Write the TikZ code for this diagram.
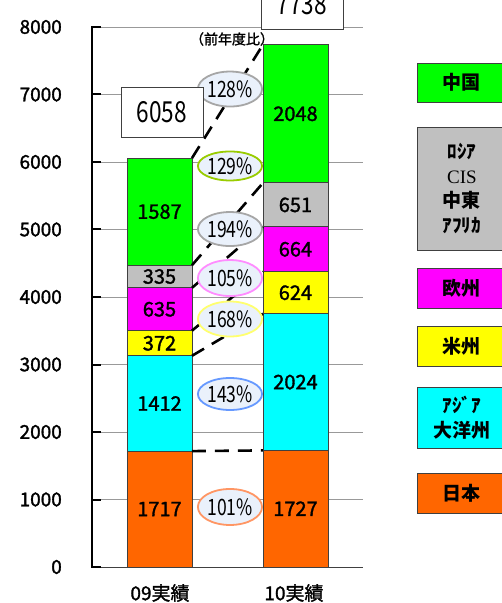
\documentclass[tikz,border=0pt]{standalone}
\usepackage{fontspec}
\setmainfont{Noto Sans CJK JP}
\newfontfamily\halbfett[FakeBold=1.6]{Noto Sans CJK JP}
\newfontfamily\schmal[FakeStretch=0.78]{Noto Sans CJK JP}
\newfontfamily\serifCIS{Liberation Serif}
\usetikzlibrary{shapes.geometric}
\definecolor{gruen}{RGB}{0,255,0}
\definecolor{grauB}{RGB}{192,192,192}
\definecolor{magentaB}{RGB}{255,0,255}
\definecolor{gelb}{RGB}{255,255,0}
\definecolor{tuerkis}{RGB}{0,255,255}
\definecolor{orangeB}{RGB}{255,102,0}
\definecolor{rahmen}{RGB}{64,64,64}
\definecolor{kreis}{RGB}{234,241,251}
\definecolor{grauE}{RGB}{166,166,166}
\definecolor{gruenE}{RGB}{153,204,0}
\definecolor{rosa}{RGB}{255,140,255}
\definecolor{hellgelb}{RGB}{255,255,110}
\definecolor{blauE}{RGB}{102,153,255}
\definecolor{lachs}{RGB}{255,150,100}

\begin{document}
\begin{tikzpicture}[x=1pt, y=0.0675pt, % 1000 = 67.5pt
  gitter/.style={draw=gray!80, line width=0.8pt},
  achse/.style={line width=2pt, line cap=rect},
  balken/.style={draw=rahmen, line width=0.9pt},
  zahl/.style={font=\halbfett\fontsize{20}{22}\selectfont, inner sep=0pt},
  skala/.style={font=\halbfett\fontsize{19}{22}\selectfont, inner sep=0pt},
  reihe/.style={line width=2.6pt, dash pattern=on 14pt off 9pt},
  quote/.style={ellipse, fill=kreis, line width=1.8pt, minimum width=45pt, inner sep=0pt,
    font=\schmal\fontsize{22.5}{24}\selectfont},
  summe/.style={draw=rahmen, fill=white, line width=0.9pt, minimum width=82pt, minimum height=50pt,
    font=\schmal\fontsize{29}{31}\selectfont},
  legende/.style={draw=rahmen, line width=0.9pt, minimum width=90pt, align=center,
    font=\bfseries\fontsize{19}{24.5}\selectfont}]

\useasboundingbox (-92,-533.3) rectangle (410,8400);

% Gitter und Achsen
\foreach \y in {1000,2000,...,8000}
  \draw[gitter] (0,\y) -- (271,\y);
\draw[rahmen, line width=0.8pt] (0,0) -- (271,0); % x-Achse
\foreach \y in {0,1000,...,8000} {
  \draw[achse] (0,\y) -- (8,\y);
  \node[skala, anchor=east] (y\y) at (-30,\y) {\y};
}
\draw[achse] (0,0) -- (0,8000); % y-Achse

% Balken 09 / 10
\foreach \i/\farbe/\wa/\ua/\oa/\wb/\ub/\ob in {1/orangeB/1717/0/1717/1727/0/1727,
  2/tuerkis/1412/1717/3129/2024/1727/3751, 3/gelb/372/3129/3501/624/3751/4375,
  4/magentaB/635/3501/4136/664/4375/5039, 5/grauB/335/4136/4471/651/5039/5690,
  6/gruen/1587/4471/6058/2048/5690/7738} {
  \filldraw[balken, fill=\farbe] (35,\ua) rectangle (100,\oa);
  \node[zahl] (a\i) at (67.5,{(\ua+\oa)/2}) {\wa};
  \filldraw[balken, fill=\farbe] (171,\ub) rectangle (236,\ob);
  \node[zahl] (b\i) at (203.5,{(\ub+\ob)/2}) {\wb};
  \coordinate (l\i) at (100,\oa);
  \coordinate (r\i) at (171,\ob);
}
\foreach \i in {1,...,6}
  \draw[reihe] (l\i) -- (r\i); % Verbindungslinien

% Vorjahresvergleich
\foreach \n/\y/\h/\rand in {128/7081/35/grauE, 129/5941/29/gruenE, 194/5007/34/grauE,
  105/4281/36/rosa, 168/3674/35/hellgelb, 143/2563/32/blauE, 101/889/36/lachs}
  \node[quote, draw=\rand, minimum height=\h pt] (q\n) at (138,\y) {\n\%};

\node[summe] (s09) at (70,6741) {6058};
\node[summe] (s10) at (210,8341) {7738};
\node[font=\halbfett\fontsize{14}{16}\selectfont, inner sep=0pt] (vj) at (140,7822) {（前年度比）};

% Beschriftung unten
\node[skala] (k09) at (68,-385) {09実績};
\node[skala] (k10) at (202,-385) {10実績};

% Legende
\foreach \n/\y/\h/\farbe/\txt in {cn/7178/39/gruen/中国, ru/5607/123/grauB/{ﾛｼｱ\\{\serifCIS\mdseries CIS}\\中東\\ｱﾌﾘｶ},
  eu/4133/40/magentaB/欧州, us/3274/40/gelb/米州, as/2215/61/tuerkis/{ｱｼﾞｱ\\大洋州},
  jp/1096/40/orangeB/日本}
  \node[legende, fill=\farbe, minimum height=\h pt] (g\n) at (370,\y) {\txt};

\end{tikzpicture}
\end{document}
